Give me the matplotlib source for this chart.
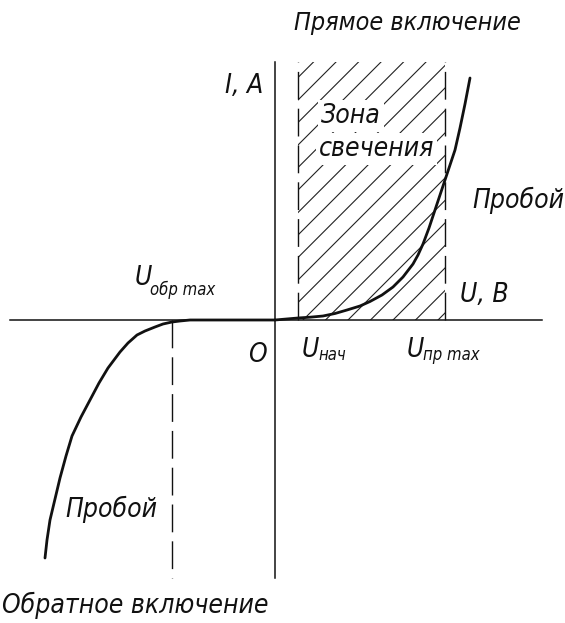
import numpy as np
import matplotlib
matplotlib.use("Agg")
import matplotlib.pyplot as plt
from matplotlib.patches import Rectangle

# --- diode I-V characteristic (arbitrary units) ---
u_forward = [0, 23, 35, 48, 60, 72, 85, 95, 107, 118, 128, 138, 143, 148,
             154, 160, 165, 170, 175, 180, 185, 190, 195]
i_forward = [0, 2, 2.8, 4, 6.5, 10, 14, 18.5, 25, 33, 43, 56, 65, 76,
             92, 110, 125, 140, 155, 170, 192, 216, 242]

u_reverse = [0, -85, -95, -103, -112, -120, -130, -138, -147, -155, -161, -167,
             -176, -185, -194, -203, -209, -215, -220, -225, -228, -230]
i_reverse = [0, 0, -1, -2, -4, -7, -11, -15, -23, -32, -40, -48,
             -63, -80, -97, -116, -136, -158, -179, -200, -220, -238]

u_start = 23        # U_нач
u_fwd_max = 170     # U_пр max
u_rev_max = -103    # U_обр max
axis_len = 258

# --- labels ---
title_fwd = "Прямое включение"
title_rev = "Обратное включение"
zone_lines = ["Зона", "свечения"]
breakdown = "Пробой"

INK = "#111111"

fig = plt.figure(figsize=(5.65, 6.23), dpi=100)
ax = fig.add_axes([0, 0, 1, 1])
ax.set_xlim(-275, 290)
ax.set_ylim(-303, 320)
ax.axis("off")

# axes
ax.plot([-265, 267], [0, 0], color=INK, lw=1.1, zorder=3)
ax.plot([0, 0], [-axis_len, axis_len], color=INK, lw=1.1, zorder=3)

# dashed guides
dash = (0, (20, 6.5))
for u, sgn in [(u_start, 1), (u_fwd_max, 1), (u_rev_max, -1)]:
    ax.plot([u, u], [0, sgn * axis_len], color=INK, lw=1.0, ls=dash, zorder=3)

# hatching of the glow zone
zone = Rectangle((u_start, 0), u_fwd_max - u_start, axis_len, transform=ax.transData)
for c in np.arange(28 - 22.5 * 13, 200, 22.5):
    ln, = ax.plot([c - 50, c + 400], [-50, 400], color="#222222", lw=0.8, zorder=1)
    ln.set_clip_path(zone)

# characteristic
ax.plot(u_forward, i_forward, color=INK, lw=2.0, zorder=4,
        solid_capstyle="round", solid_joinstyle="round")
ax.plot(u_reverse, i_reverse, color=INK, lw=2.0, zorder=4,
        solid_capstyle="round", solid_joinstyle="round")

txt = dict(family="DejaVu Sans", stretch="condensed", style="italic", color=INK)
big = 19
sub = 12

ax.text(132, 290, title_fwd, ha="center", va="baseline", fontsize=18, **txt)
ax.text(-273, -293, title_rev, ha="left", va="baseline", fontsize=big, **txt)
ax.text(-12, 227, "I, A", ha="right", va="baseline", fontsize=big, **txt)
ax.text(185, 18, "U, B", ha="left", va="baseline", fontsize=big, **txt)
ax.text(-8, -42, "O", ha="right", va="baseline", fontsize=big, **txt)

box = dict(facecolor="white", edgecolor="none", pad=2)
ax.text(46, 197, zone_lines[0], ha="left", va="baseline", fontsize=big, bbox=box, zorder=2, **txt)
ax.text(44, 164, zone_lines[1], ha="left", va="baseline", fontsize=big, bbox=box, zorder=2, **txt)

ax.text(197, 112, breakdown, ha="left", va="baseline", fontsize=big, **txt)
ax.text(-210, -197, breakdown, ha="left", va="baseline", fontsize=big, **txt)

# voltage marks with subscripts
ax.text(-140, 35, "U", ha="left", va="baseline", fontsize=big, **txt)
ax.text(-125, 25, "обр max", ha="left", va="baseline", fontsize=sub, **txt)
ax.text(27, -37, "U", ha="left", va="baseline", fontsize=big, **txt)
ax.text(43, -40, "нач", ha="left", va="baseline", fontsize=sub, **txt)
ax.text(132, -37, "U", ha="left", va="baseline", fontsize=big, **txt)
ax.text(148, -40, "пр max", ha="left", va="baseline", fontsize=sub, **txt)

fig.savefig("out.png", dpi=100)
plt.close(fig)
